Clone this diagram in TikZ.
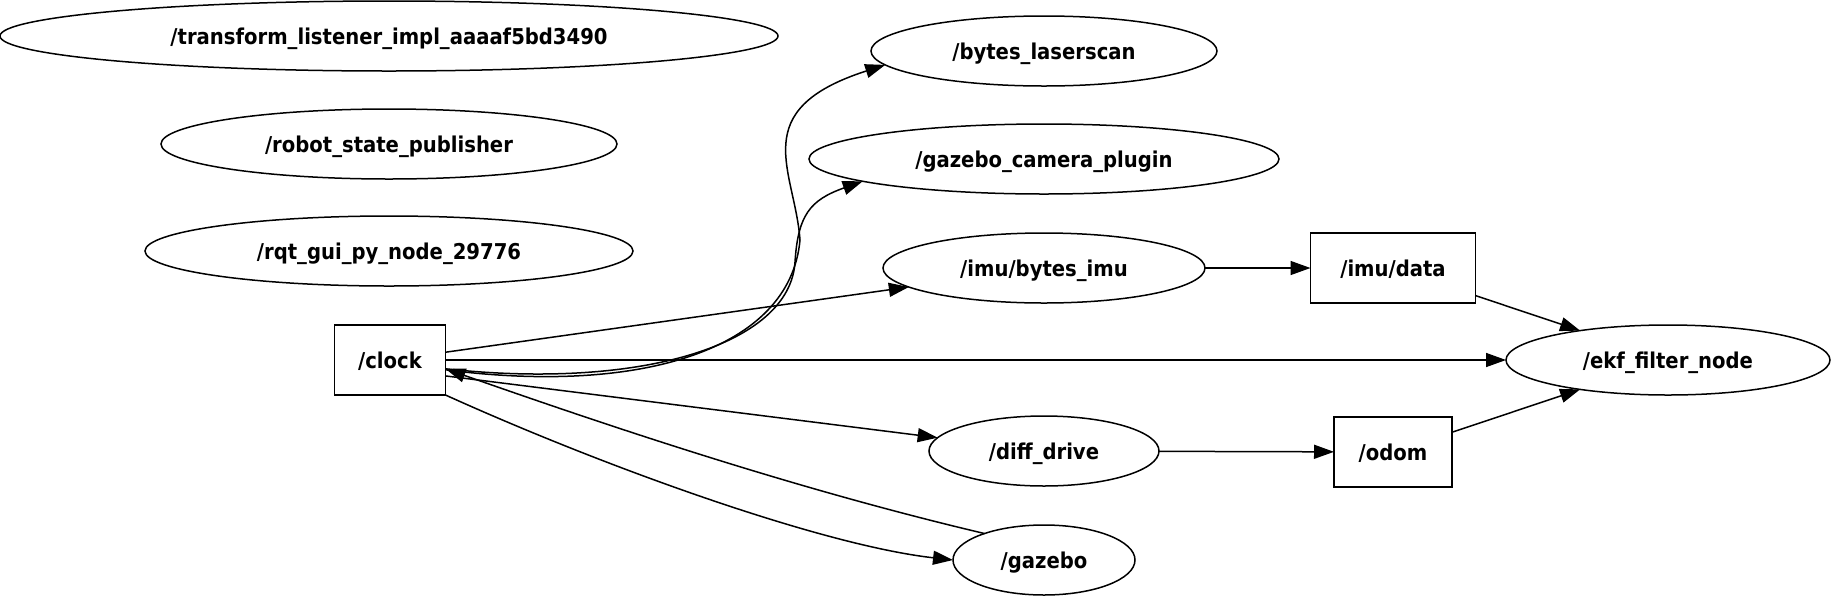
\documentclass[tikz,border=0pt]{standalone}
\usepackage{fontspec}
\setmainfont{DejaVu Sans Condensed}
\usepackage{tikz}
\usetikzlibrary{arrows.meta,positioning,shapes.geometric}

\begin{document}
\begin{tikzpicture}[x=0.5pt,y=-0.5pt,>={Triangle[length=10pt,width=7pt]},line width=0.75pt,
  rosnode/.style={ellipse,draw,inner sep=0pt,outer sep=0pt,minimum height=35pt,text height=8pt,text depth=0pt,font=\bfseries\fontsize{10.9}{12}\selectfont},
  topic/.style={rectangle,draw,inner sep=0pt,outer sep=0pt,minimum height=35pt,text height=8pt,text depth=0pt,font=\bfseries\fontsize{10.9}{12}\selectfont}]
\useasboundingbox (0,0) rectangle (1833,596);
\node[rosnode,minimum width=389pt] (tl) at (389,36) {/transform\_listener\_impl\_aaaaf5bd3490};
\node[rosnode,minimum width=228pt] (rsp) at (389,144) {/robot\_state\_publisher};
\node[rosnode,minimum width=244pt] (rqt) at (389,251) {/rqt\_gui\_py\_node\_29776};
\node[topic,minimum width=55.5pt] (clk) at (390,360) {/clock};
\node[rosnode,minimum width=173pt] (bls) at (1044,51) {/bytes\_laserscan};
\node[rosnode,minimum width=235pt] (cam) at (1044,159) {/gazebo\_camera\_plugin};
\node[rosnode,minimum width=161pt] (bimu) at (1044,268) {/imu/bytes\_imu};
\node[topic,minimum width=82.5pt] (imud) at (1393,268) {/imu/data};
\node[rosnode,minimum width=162pt] (ekf) at (1668,360) {/ekf\_filter\_node};
\node[rosnode,minimum width=115pt] (dd) at (1044,451) {/diff\_drive};
\node[topic,minimum width=59pt] (odom) at (1393,452) {/odom};
\node[rosnode,minimum width=91pt] (gz) at (1044,560) {/gazebo};
% clock fans out
\draw[->] (clk.-10) .. controls (640,395) and (790,350) .. (800,240)
  .. controls (795,170) and (745,110) .. (bls.-175);
\draw[->] (clk.-9) .. controls (640,390) and (790,345) .. (795,262)
  .. controls (798,215) and (810,200) .. (cam.-173);
\draw[->] (clk) -- (bimu);
\draw[->] (clk) -- (ekf);
\draw[->] (clk.-16) -- (dd);
\draw[->] (clk.south east) .. controls (600,465) and (820,545) .. (gz.west);
\draw[->] (gz.156) .. controls (800,490) and (620,430) .. (clk.-9);
% imu and odom chain
\draw[->] (bimu) -- (imud);
\draw[->] (imud) -- (ekf);
\draw[->] (dd) -- (odom);
\draw[->] (odom) -- (ekf);
\end{tikzpicture}
\end{document}
